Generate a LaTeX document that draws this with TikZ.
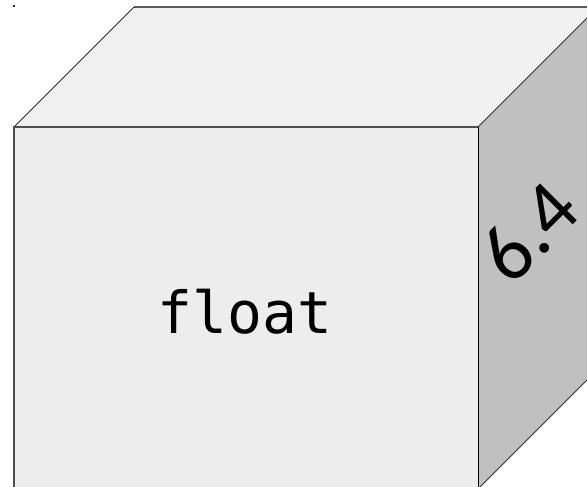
\documentclass[tikz,border=0pt]{standalone}
\usepackage{fontspec}
\newfontfamily\monofont{DejaVu Sans Mono}
\newfontfamily\labelfont{Carlito}
\definecolor{frontgray}{HTML}{EDEDED}
\definecolor{topgray}{HTML}{F0F0F0}
\definecolor{sidegray}{HTML}{C0C0C0}
\definecolor{edgegray}{HTML}{303030}
\begin{document}
\begin{tikzpicture}[x=1pt,y=-1pt]
  \useasboundingbox (0,0) rectangle (587,487);
  \clip (0,0) rectangle (587,487);
  % corners of the cuboid (depth offset 120,-120)
  \coordinate (ftl) at (14,127);
  \coordinate (ftr) at (478,127);
  \coordinate (fbl) at (14,489);
  \coordinate (fbr) at (478,489);
  \coordinate (btl) at (134,7);
  \coordinate (btr) at (598,7);
  \coordinate (bbr) at (598,369);
  % top face
  \fill[topgray] (ftl) -- (btl) -- (btr) -- (ftr) -- cycle;
  \draw[edgegray, line width=1pt] (ftl) -- (btl);
  \draw[edgegray!80, line width=1.6pt] (btl) -- (btr);
  % right face
  \fill[sidegray] (ftr) -- (btr) -- (bbr) -- (fbr) -- cycle;
  \draw[edgegray, line width=1pt] (ftr) -- (btr);
  \draw[edgegray, line width=1pt] (fbr) -- (bbr);
  % front face
  \fill[frontgray] (ftl) rectangle (fbr);
  \draw[edgegray!85, line width=1.4pt] (fbl) -- (ftl) -- (ftr);
  \draw[black, line width=1pt] (ftr) -- (fbr);
  % small mark at the top left
  \fill[edgegray] (13,5.5) rectangle (14.5,7);
  % labels
  \node[anchor=base, inner sep=0pt, font=\monofont\fontsize{58}{62}\selectfont] (name) at (245,333) {float};
  \node[rotate=45, inner sep=0pt, font=\labelfont\fontsize{81}{85}\selectfont] (size) at (528.5,232) {6.4};
\end{tikzpicture}
\end{document}
